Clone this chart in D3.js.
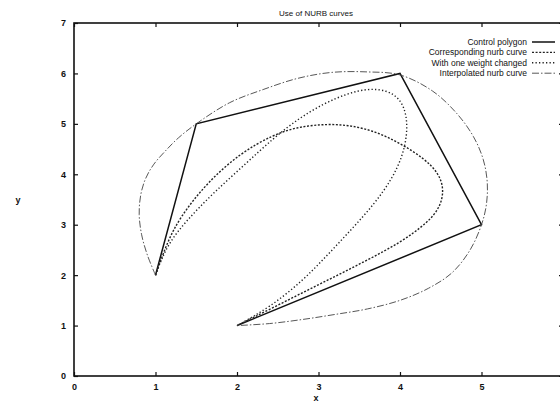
<!DOCTYPE html>
<head>
    <script src="https://d3js.org/d3.v7.min.js"></script>
</head>
<style>
body {
  margin: 0;
  background: #fff;
  font-family: "Liberation Sans", Arial, Helvetica, sans-serif;
}
svg { display: block; }
</style>
<body>
    <svg></svg>
</body>
<script>
    // control polygon
    var controlX = [1, 1.5, 4, 5, 2];
    var controlY = [2, 5, 6, 3, 1];

    // corresponding nurb curve
    var nurbX = [1, 1.14, 1.3, 1.63, 2.04, 2.44, 2.74, 3.1, 3.4, 3.7, 4.0, 4.3, 4.47, 4.54, 4.5, 4.34, 4.0, 3.6, 3.2, 2.8, 2.4, 2];
    var nurbY = [2, 2.64, 3.15, 3.83, 4.42, 4.78, 4.94, 5.0, 4.97, 4.85, 4.62, 4.31, 4.03, 3.72, 3.36, 3.04, 2.64, 2.3, 1.97, 1.65, 1.32, 1];

    // with one weight changed
    var weightX = [1, 1.14, 1.39, 1.71, 2.1, 2.45, 2.75, 3.06, 3.35, 3.6, 3.84, 4.0, 4.08, 4.09, 4.03, 3.9, 3.68, 3.4, 3.1, 2.8, 2.4, 2];
    var weightY = [2, 2.6, 3.1, 3.63, 4.2, 4.72, 5.1, 5.4, 5.6, 5.7, 5.67, 5.5, 5.2, 4.8, 4.35, 3.9, 3.4, 2.9, 2.38, 1.88, 1.36, 1];

    // interpolated nurb curve
    var interpX = [1, 0.9, 0.83, 0.8, 0.82, 0.88, 0.98, 1.12, 1.28, 1.5, 1.91, 2.32, 2.74, 3.16, 3.6, 4.0, 4.4, 4.7, 4.9, 5.02, 5.07, 5.06, 5.0, 4.86, 4.64, 4.35, 4.0, 3.6, 3.2, 2.8, 2.4, 2];
    var interpY = [2, 2.4, 2.8, 3.2, 3.6, 3.92, 4.2, 4.46, 4.72, 5, 5.42, 5.68, 5.9, 6.02, 6.03, 5.97, 5.65, 5.2, 4.75, 4.3, 3.85, 3.4, 3, 2.5, 2.05, 1.74, 1.5, 1.33, 1.22, 1.12, 1.04, 1];

    var xTicks = [0, 1, 2, 3, 4, 5, 6];
    var yTicks = [0, 1, 2, 3, 4, 5, 6, 7];

    var legendNames = ["Control polygon", "Corresponding nurb curve", "With one weight changed", "Interpolated nurb curve"];

    var width = 560, height = 405;
    var plotLeft = 74, plotRight = 563, plotTop = 23, plotBottom = 376;

    var svg = d3.select('svg')
        .attr('width', width)
        .attr('height', height);

    var x = d3.scaleLinear().domain([0, 6]).range([plotLeft, plotRight]);
    var y = d3.scaleLinear().domain([0, 7]).range([plotBottom, plotTop]);

    function zip(xs, ys) { return xs.map(function (v, i) { return [v, ys[i]]; }); }

    // frame
    svg.append('rect')
        .attr('x', plotLeft).attr('y', plotTop)
        .attr('width', plotRight - plotLeft).attr('height', plotBottom - plotTop)
        .attr('fill', 'none').attr('stroke', '#111').attr('stroke-width', 1.6);

    // axes with inward ticks
    svg.append('g').attr('transform', 'translate(0,' + plotBottom + ')')
        .call(d3.axisBottom(x).tickValues(xTicks).tickSizeInner(-4).tickSizeOuter(0).tickPadding(8).tickFormat(d3.format('d')));
    svg.append('g').attr('transform', 'translate(0,' + plotTop + ')')
        .call(d3.axisTop(x).tickValues(xTicks).tickSizeInner(-4).tickSizeOuter(0).tickFormat(''));
    svg.append('g').attr('transform', 'translate(' + plotLeft + ',0)')
        .call(d3.axisLeft(y).tickValues(yTicks).tickSizeInner(-4).tickSizeOuter(0).tickPadding(8).tickFormat(d3.format('d')));
    svg.append('g').attr('transform', 'translate(' + plotRight + ',0)')
        .call(d3.axisRight(y).tickValues(yTicks).tickSizeInner(-4).tickSizeOuter(0).tickFormat(''));

    svg.selectAll('.domain').remove();
    svg.selectAll('.tick line').attr('stroke', '#111').attr('stroke-width', 1.2);
    svg.selectAll('.tick text')
        .attr('fill', '#111')
        .style('font-size', '9px')
        .style('font-weight', 'bold');

    // labels
    svg.append('text').attr('x', 316).attr('y', 16).attr('text-anchor', 'middle')
        .style('font-size', '8px').attr('fill', '#111').text('Use of NURB curves');
    svg.append('text').attr('x', 316).attr('y', 401).attr('text-anchor', 'middle')
        .style('font-size', '9px').style('font-weight', 'bold').attr('fill', '#111').text('x');
    svg.append('text').attr('x', 18).attr('y', 203).attr('text-anchor', 'middle')
        .style('font-size', '9px').style('font-weight', 'bold').attr('fill', '#111').text('y');

    var line = d3.line().x(function (d) { return x(d[0]); }).y(function (d) { return y(d[1]); });
    var basis = d3.line().curve(d3.curveBasis)
        .x(function (d) { return x(d[0]); }).y(function (d) { return y(d[1]); });
    var smooth = d3.line().curve(d3.curveCatmullRom.alpha(0.5))
        .x(function (d) { return x(d[0]); }).y(function (d) { return y(d[1]); });

    var styles = [
        { dash: null, width: 1.5, color: '#111' },
        { dash: '2,1.6', width: 1.4, color: '#222' },
        { dash: '1.3,2.2', width: 1.4, color: '#222' },
        { dash: '7,2,1.5,2', width: 0.9, color: '#444' }
    ];

    var series = [
        { pts: zip(controlX, controlY), gen: line },
        { pts: zip(nurbX, nurbY), gen: basis },
        { pts: zip(weightX, weightY), gen: basis },
        { pts: zip(interpX, interpY), gen: smooth }
    ];

    series.forEach(function (s, i) {
        svg.append('path')
            .attr('d', s.gen(s.pts))
            .attr('fill', 'none')
            .attr('stroke', styles[i].color)
            .attr('stroke-width', styles[i].width)
            .attr('stroke-dasharray', styles[i].dash);
    });

    // legend
    var leg = svg.append('g');
    legendNames.forEach(function (name, i) {
        var ly = 42 + i * 10.4;
        leg.append('text').attr('x', 527).attr('y', ly + 3).attr('text-anchor', 'end')
            .style('font-size', '8.5px').attr('fill', '#111').text(name);
        leg.append('line').attr('x1', 532).attr('x2', 555).attr('y1', ly).attr('y2', ly)
            .attr('stroke', styles[i].color)
            .attr('stroke-width', styles[i].width)
            .attr('stroke-dasharray', styles[i].dash);
    });
</script>
